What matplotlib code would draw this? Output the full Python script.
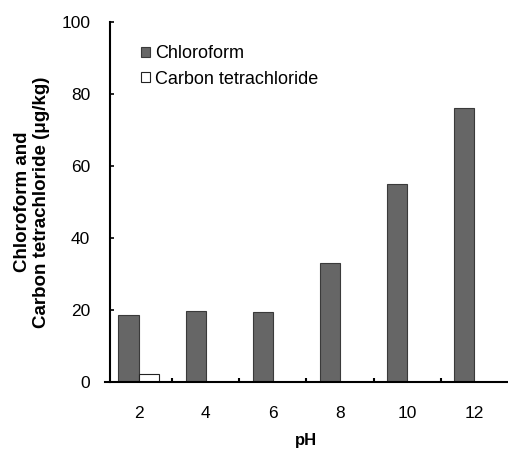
import numpy as np
import matplotlib
matplotlib.use("Agg")
import matplotlib.pyplot as plt

plt.rcParams['font.family'] = ['Liberation Sans', 'DejaVu Sans']

ph = ["2", "4", "6", "8", "10", "12"]
chloroform = [18.5, 19.8, 19.5, 33.0, 55.0, 76.0]
carbon_tet = [2.2, 0, 0, 0, 0, 0]

fig = plt.figure(figsize=(5.08, 4.5), dpi=100)
ax = fig.add_axes([105 / 508, 1 - 382 / 450, 1 - 105 / 508, 360 / 450])

x = np.arange(len(ph))
w = 0.3
ax.bar(x - w / 2, chloroform, w, color="#666666", edgecolor="#3a3a3a",
       linewidth=0.8, label="Chloroform")
ax.bar(x + w / 2, carbon_tet, w, color="white", edgecolor="#222222",
       linewidth=0.8, label="Carbon tetrachloride")

ax.set_xlim(-0.5, 5.5)
ax.set_ylim(0, 100)
ax.set_yticks([0, 20, 40, 60, 80, 100])
ax.set_xticks(x)
ax.set_xticklabels(ph)
ax.set_xticks(x[:-1] + 0.5, minor=True)
ax.tick_params(axis="x", which="major", length=0, pad=17, labelsize=12.5)
ax.tick_params(axis="x", which="minor", direction="in", length=3, width=1.5)
ax.tick_params(axis="y", direction="in", length=3, width=1.2, pad=14, labelsize=12.5)

for s in ["top", "right"]:
    ax.spines[s].set_visible(False)
ax.spines["left"].set_position(("data", -0.43))
ax.spines["left"].set_linewidth(1.5)
ax.spines["bottom"].set_linewidth(1.5)

ax.set_xlabel("pH", fontsize=12, fontweight="bold", labelpad=9)
ax.set_ylabel("Chloroform and\nCarbon tetrachloride (\u03bcg/kg)", fontsize=13.5,
              fontweight="bold", labelpad=8)

ax.legend(loc="upper left", bbox_to_anchor=(0.09, 0.935), frameon=False,
          fontsize=13, handlelength=0.5, handleheight=0.5, handletextpad=0.25,
          borderaxespad=0, borderpad=0, labelspacing=0.45)

fig.savefig("out.png", dpi=100)
